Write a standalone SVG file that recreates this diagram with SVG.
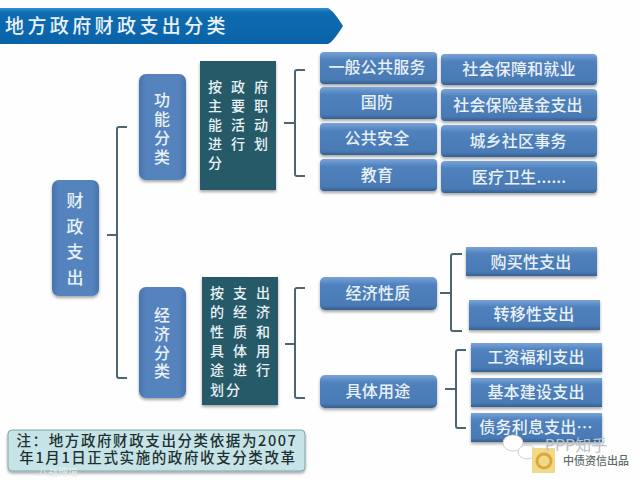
<svg xmlns="http://www.w3.org/2000/svg" width="640" height="480" viewBox="0 0 640 480">
<defs>
<linearGradient id="banner" x1="0" y1="0" x2="0" y2="1"><stop offset="0" stop-color="#2f93cf"/><stop offset="0.12" stop-color="#0f6cb0"/><stop offset="1" stop-color="#0a62a8"/></linearGradient>
<linearGradient id="blue" x1="0" y1="0" x2="0" y2="1"><stop offset="0" stop-color="#7ba4d6"/><stop offset="0.12" stop-color="#6392cb"/><stop offset="0.24" stop-color="#4f81bd"/><stop offset="0.86" stop-color="#4a7ab5"/><stop offset="1" stop-color="#35608f"/></linearGradient>
<linearGradient id="tall" x1="0" y1="0" x2="1" y2="0"><stop offset="0" stop-color="#4675ae"/><stop offset="0.15" stop-color="#5583bd"/><stop offset="0.85" stop-color="#5583bd"/><stop offset="1" stop-color="#4675ae"/></linearGradient>
<filter id="sh" x="-10%" y="-10%" width="120%" height="125%"><feGaussianBlur in="SourceAlpha" stdDeviation="1.6"/><feOffset dy="2"/><feComponentTransfer><feFuncA type="linear" slope="0.35"/></feComponentTransfer><feMerge><feMergeNode/><feMergeNode in="SourceGraphic"/></feMerge></filter>
</defs>
<style>
text{font-family:"Noto Sans CJK SC","Noto Sans CJK TC",sans-serif;text-anchor:middle;fill:#e9f1f6;font-weight:500}
.b{fill:url(#blue);filter:url(#sh)}
.t{fill:url(#tall);filter:url(#sh)}
.d{fill:#265a68;filter:url(#sh)}
.l{font-size:16px;letter-spacing:.2px}
.v{font-size:16px}
.r{font-size:17px}
.s{font-size:14px;text-anchor:start;letter-spacing:9px}
.n{font-size:14.5px;fill:#1f3030;letter-spacing:1.6px}
.br{fill:none;stroke:#4d6473;stroke-width:2}
</style>
<rect width="640" height="480" fill="#fefefe"/>
<g id="banner"><path d="M0 8H328Q333 10 343 26Q333 42 328 44H0Z" fill="url(#banner)"/><text x="117" y="33" font-size="19" letter-spacing="3.4">地方政府财政支出分类</text></g>
<g id="connectors">
<path class="br" d="M127 127H119Q117 127 117 129V376Q117 378 119 378H127M107 235H117"/>
<path class="br" d="M305 70H297Q295 70 295 72V174Q295 176 297 176H305M284 123H295"/>
<path class="br" d="M305 288H297Q295 288 295 290V396Q295 398 297 398H305M285 344H295"/>
<path class="br" d="M462 254H453Q451 254 451 256V329Q451 331 453 331H462M440 293H451"/>
<path class="br" d="M466 350H458Q456 350 456 352V426Q456 428 458 428H466M445 389H456"/>
</g>
<g id="n-root"><rect class="t" x="52" y="180" width="47" height="116" rx="7"/><text class="r" x="75" y="207">财</text><text class="r" x="75" y="233">政</text><text class="r" x="75" y="258">支</text><text class="r" x="75" y="284">出</text></g>
<g id="n-func"><rect class="t" x="139" y="74" width="47" height="106" rx="7"/><text class="v" x="162" y="106">功</text><text class="v" x="162" y="125">能</text><text class="v" x="162" y="144">分</text><text class="v" x="162" y="163">类</text></g>
<g id="n-econ"><rect class="t" x="139" y="287" width="47" height="111" rx="7"/><text class="v" x="162" y="321">经</text><text class="v" x="162" y="340">济</text><text class="v" x="162" y="359">分</text><text class="v" x="162" y="377">类</text></g>
<g id="n-desc1"><rect class="d" x="200" y="61" width="76" height="129"/>
<text class="s" x="208" y="92">按政府</text><text class="s" x="208" y="111">主要职</text><text class="s" x="208" y="130">能活动</text><text class="s" x="208" y="149">进行划</text><text class="s" x="208" y="168">分</text></g>
<g id="n-desc2"><rect class="d" x="202" y="277" width="76" height="128"/>
<text class="s" x="210" y="298">按支出</text><text class="s" x="210" y="317">的经济</text><text class="s" x="210" y="337">性质和</text><text class="s" x="210" y="356">具体用</text><text class="s" x="210" y="375">途进行</text><text class="s" x="210" y="395" style="letter-spacing:2px">划分</text></g>
<g id="n-a1"><rect class="b" x="320" y="52" width="117" height="32" rx="4"/><text class="l" x="377" y="73">一般公共服务</text></g>
<g id="n-a2"><rect class="b" x="320" y="87" width="117" height="32" rx="4"/><text class="l" x="377" y="108">国防</text></g>
<g id="n-a3"><rect class="b" x="320" y="123" width="117" height="32" rx="4"/><text class="l" x="377" y="144">公共安全</text></g>
<g id="n-a4"><rect class="b" x="320" y="159" width="117" height="32" rx="4"/><text class="l" x="377" y="181">教育</text></g>
<g id="n-b1"><rect class="b" x="441" y="54" width="156" height="31" rx="4"/><text class="l" x="519" y="75">社会保障和就业</text></g>
<g id="n-b2"><rect class="b" x="441" y="89" width="156" height="32" rx="4"/><text class="l" x="518" y="111">社会保险基金支出</text></g>
<g id="n-b3"><rect class="b" x="441" y="125" width="156" height="32" rx="4"/><text class="l" x="518" y="147">城乡社区事务</text></g>
<g id="n-b4"><rect class="b" x="441" y="161" width="156" height="32" rx="4"/><text class="l" x="519" y="183">医疗卫生......</text></g>
<g id="n-c1"><rect class="b" x="320" y="277" width="117" height="33" rx="5"/><text class="l" x="378" y="299">经济性质</text></g>
<g id="n-c2"><rect class="b" x="320" y="375" width="117" height="33" rx="5"/><text class="l" x="378" y="397">具体用途</text></g>
<g id="n-e1"><rect class="b" x="466" y="247" width="131" height="29"/><text class="l" x="531" y="268">购买性支出</text></g>
<g id="n-e2"><rect class="b" x="469" y="300" width="131" height="30"/><text class="l" x="534" y="320">转移性支出</text></g>
<g id="n-f1"><rect class="b" x="471" y="343" width="131" height="29"/><text class="l" x="536" y="363">工资福利支出</text></g>
<g id="n-f2"><rect class="b" x="471" y="378" width="131" height="29"/><text class="l" x="536" y="398">基本建设支出</text></g>
<g id="n-f3"><rect class="b" x="471" y="413" width="131" height="29"/><text class="l" x="536" y="433">债务利息支出…</text></g>
<g id="n-note"><rect x="8" y="430" width="297" height="41" rx="4" fill="#c6e4e7" stroke="#7fa6ad" filter="url(#sh)"/><text class="n" x="157" y="446">注：地方政府财政支出分类依据为2007</text><text class="n" x="158" y="463">年1月1日正式实施的政府收支分类改革</text></g>
<g id="watermark"><text x="58" y="475.5" font-size="10" style="fill:#e3eced;font-weight:400">八战博境</text><ellipse cx="513" cy="443" rx="10" ry="8" fill="#fff" stroke="#cfcfcf"/><ellipse cx="527" cy="452" rx="9" ry="7" fill="#fff" stroke="#cfcfcf"/><rect x="532" y="448" width="23" height="25" fill="#f2d98a"/><circle cx="544" cy="461" r="7" fill="none" stroke="#d9a93a" stroke-width="3"/><text x="576" y="451" font-size="16" style="fill:#b9c3cc;font-weight:400">PPP知乎</text><text x="596" y="465" font-size="11" style="fill:#5d6b66">中债资信出品</text></g>
</svg>
